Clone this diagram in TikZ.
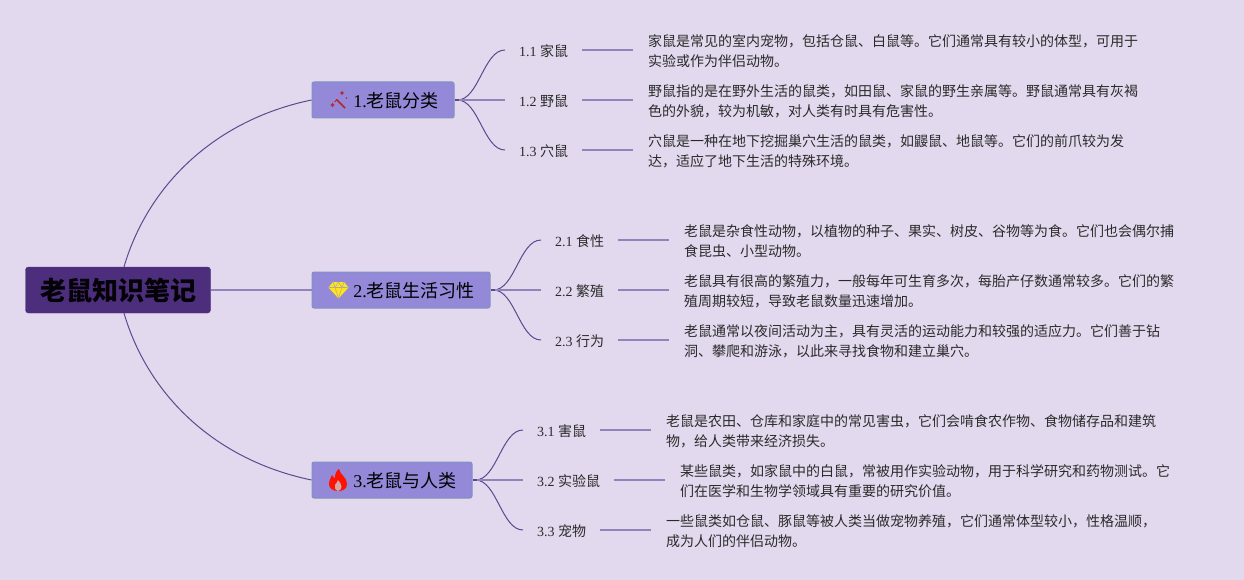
\documentclass[tikz,border=0pt]{standalone}
\usepackage{fontspec}
\setmainfont{Liberation Serif}
\newfontfamily\cjk{Noto Sans CJK SC}
\usetikzlibrary{calc}
\definecolor{bgc}{HTML}{E3D9EE}
\definecolor{rootc}{HTML}{4C2E7D}
\definecolor{boxc}{HTML}{9488D8}
\definecolor{boxl}{HTML}{7F93BE}
\definecolor{thickc}{HTML}{9482BA}
\definecolor{thinc}{HTML}{5A4A8E}
\definecolor{txt}{HTML}{2A2A2A}
\tikzset{
  rootbox/.style={fill=rootc,draw=rootc,rounded corners=3pt,minimum width=185pt,minimum height=46pt,inner sep=0pt,anchor=center,font=\cjk\bfseries\fontsize{26}{30}\selectfont,text=black!95!rootc},
  topicbox/.style={fill=boxc,draw=boxl,line width=1pt,rounded corners=2pt,minimum height=36pt,inner xsep=0pt,inner ysep=0pt,anchor=west,font=\fontsize{18}{22}\selectfont,text=black},
  leaflabel/.style={anchor=west,yshift=-1pt,inner xsep=14pt,inner ysep=2pt,font=\fontsize{14}{18}\selectfont,text=txt},
  leaftext/.style={anchor=west,yshift=-1pt,inner xsep=15pt,inner ysep=2pt,align=left,font=\cjk\fontsize{14}{20}\selectfont,text=txt},
  thickline/.style={draw=thickc,line width=2pt},
  stubline/.style={draw=thinc,line width=2pt},
  thinline/.style={draw=thinc,line width=1pt},
  rootcurve/.style={draw=thinc,line width=1pt},
}
\newcommand{\branchto}[2]{%
  \coordinate (bs) at ([xshift=3pt]#1.east);
  \coordinate (be) at ([yshift=1pt]#2.west);
  \draw[thinline] (bs) .. controls ($(bs)!0.45!(be |- bs)$) and ($(be)!0.45!(bs |- be)$) .. (be);}
\newcommand{\topictext}[1]{\hspace*{26pt}\raisebox{-7.5pt}[0pt][0pt]{#1}}
\begin{document}
\begin{tikzpicture}[x=1pt,y=-1pt]
\useasboundingbox (0,0) rectangle (1244,580);
\fill[bgc] (0,0) rectangle (1244,580);
% root and topics
\node[rootbox] (root) at (118,290) {老鼠知识笔记};
\node[topicbox,minimum width=142pt] (t1) at (311.5,100) {\topictext{1.{\cjk 老鼠分类}}};
\node[topicbox,minimum width=178pt] (t2) at (311.5,290) {\topictext{2.{\cjk 老鼠生活习性}}};
\node[topicbox,minimum width=160pt] (t3) at (311.5,480) {\topictext{3.{\cjk 老鼠与人类}}};
% root connectors
\coordinate (rt) at ($(root.north)+(6,0)$);
\coordinate (rb) at ($(root.south)+(6,0)$);
\draw[rootcurve] (rt) .. controls (148,185) and (215,120) .. (t1.west);
\draw[rootcurve] (rb) .. controls (148,395) and (215,460) .. (t3.west);
\draw[thickline] (root.east) -- (t2.west);
% group 1
\node[leaflabel] (a1) at (505,50) {1.1 {\cjk 家鼠}};
\node[leaflabel] (a2) at (505,100) {1.2 {\cjk 野鼠}};
\node[leaflabel] (a3) at (505,150) {1.3 {\cjk 穴鼠}};
\node[leaftext] (x1) at (633,50) {家鼠是常见的室内宠物，包括仓鼠、白鼠等。它们通常具有较小的体型，可用于\\实验或作为伴侣动物。};
\node[leaftext] (x2) at (633,100) {野鼠指的是在野外生活的鼠类，如田鼠、家鼠的野生亲属等。野鼠通常具有灰褐\\色的外貌，较为机敏，对人类有时具有危害性。};
\node[leaftext] (x3) at (633,150) {穴鼠是一种在地下挖掘巢穴生活的鼠类，如鼹鼠、地鼠等。它们的前爪较为发\\达，适应了地下生活的特殊环境。};
% group 2
\node[leaflabel] (b1) at (541,240) {2.1 {\cjk 食性}};
\node[leaflabel] (b2) at (541,290) {2.2 {\cjk 繁殖}};
\node[leaflabel] (b3) at (541,340) {2.3 {\cjk 行为}};
\node[leaftext] (y1) at (669,240) {老鼠是杂食性动物，以植物的种子、果实、树皮、谷物等为食。它们也会偶尔捕\\食昆虫、小型动物。};
\node[leaftext] (y2) at (669,290) {老鼠具有很高的繁殖力，一般每年可生育多次，每胎产仔数通常较多。它们的繁\\殖周期较短，导致老鼠数量迅速增加。};
\node[leaftext] (y3) at (669,340) {老鼠通常以夜间活动为主，具有灵活的运动能力和较强的适应力。它们善于钻\\洞、攀爬和游泳，以此来寻找食物和建立巢穴。};
% group 3
\node[leaflabel] (c1) at (523,430) {3.1 {\cjk 害鼠}};
\node[leaflabel] (c2) at (523,480) {3.2 {\cjk 实验鼠}};
\node[leaflabel] (c3) at (523,530) {3.3 {\cjk 宠物}};
\node[leaftext] (z1) at (651,430) {老鼠是农田、仓库和家庭中的常见害虫，它们会啃食农作物、食物储存品和建筑\\物，给人类带来经济损失。};
\node[leaftext] (z2) at (665,480) {某些鼠类，如家鼠中的白鼠，常被用作实验动物，用于科学研究和药物测试。它\\们在医学和生物学领域具有重要的研究价值。};
\node[leaftext] (z3) at (651,530) {一些鼠类如仓鼠、豚鼠等被人类当做宠物养殖，它们通常体型较小，性格温顺，\\成为人们的伴侣动物。};
% branches
\branchto{t1}{a1}
\branchto{t1}{a3}
\draw[thickline] (t1.east) -- ([yshift=1pt]a2.west);
\branchto{t2}{b1}
\branchto{t2}{b3}
\draw[thickline] (t2.east) -- ([yshift=1pt]b2.west);
\branchto{t3}{c1}
\branchto{t3}{c3}
\draw[thickline] (t3.east) -- ([yshift=1pt]c2.west);
\foreach \t in {t1,t2,t3}{\draw[stubline] (\t.east) -- ++(4,0);}
% leaf rules
\foreach \l/\r in {a1/x1,a2/x2,a3/x3,b1/y1,b2/y2,b3/y3,c1/z1,c2/z2,c3/z3}{
  \draw[thickline] ([yshift=1pt]\l.east) -- ([yshift=1pt]\r.west);
}
% wand icon
\draw[draw=red!65!black!85,line width=1.6pt] (336.5,99.5) -- (345,108);
\fill[red!70!black!85] (342,90.5) -- (342.8,92.2) -- (344.5,93) -- (342.8,93.8) -- (342,95.5) -- (341.2,93.8) -- (339.5,93) -- (341.2,92.2) -- cycle;
\fill[red!70!black!85] (332.5,102.5) -- (333.3,104.2) -- (335,105) -- (333.3,105.8) -- (332.5,107.5) -- (331.7,105.8) -- (330,105) -- (331.7,104.2) -- cycle;
\fill[red!70!black!85] (346.5,98) circle (0.8);
\draw[draw=red!65!black!85,line width=1pt] (334.5,102) -- (337,99.5);
% diamond icon
\fill[yellow!85!orange!90] (333,282) -- (344,282) -- (348.5,287.5) -- (338.5,298.5) -- (328.5,287.5) -- cycle;
\draw[boxc!70!yellow,line width=0.6pt] (329,287.5) -- (348,287.5) (333,282) -- (335,287.5) -- (338.5,298) -- (342,287.5) -- (344,282) (335,287.5) -- (338.5,282) -- (342,287.5);
% flame icon
\fill[red!85!orange] (339,469) .. controls (340,475) and (347,477) .. (347,484) .. controls (347,489) and (343,491) .. (338,491) .. controls (333,491) and (329,488.5) .. (329,484) .. controls (329,480) and (331,478) .. (332,475) .. controls (333,477) and (334,478) .. (335,478) .. controls (335,474) and (336,471) .. (339,469) -- cycle;
\fill[boxc!60!orange!70!white] (338,491) .. controls (335,490) and (334,487) .. (335,485) .. controls (336,483.5) and (337.5,482) .. (338,480) .. controls (339.5,482) and (341.5,484) .. (341.5,486.5) .. controls (341.5,489) and (340,490.5) .. (338,491) -- cycle;
\end{tikzpicture}
\end{document}
